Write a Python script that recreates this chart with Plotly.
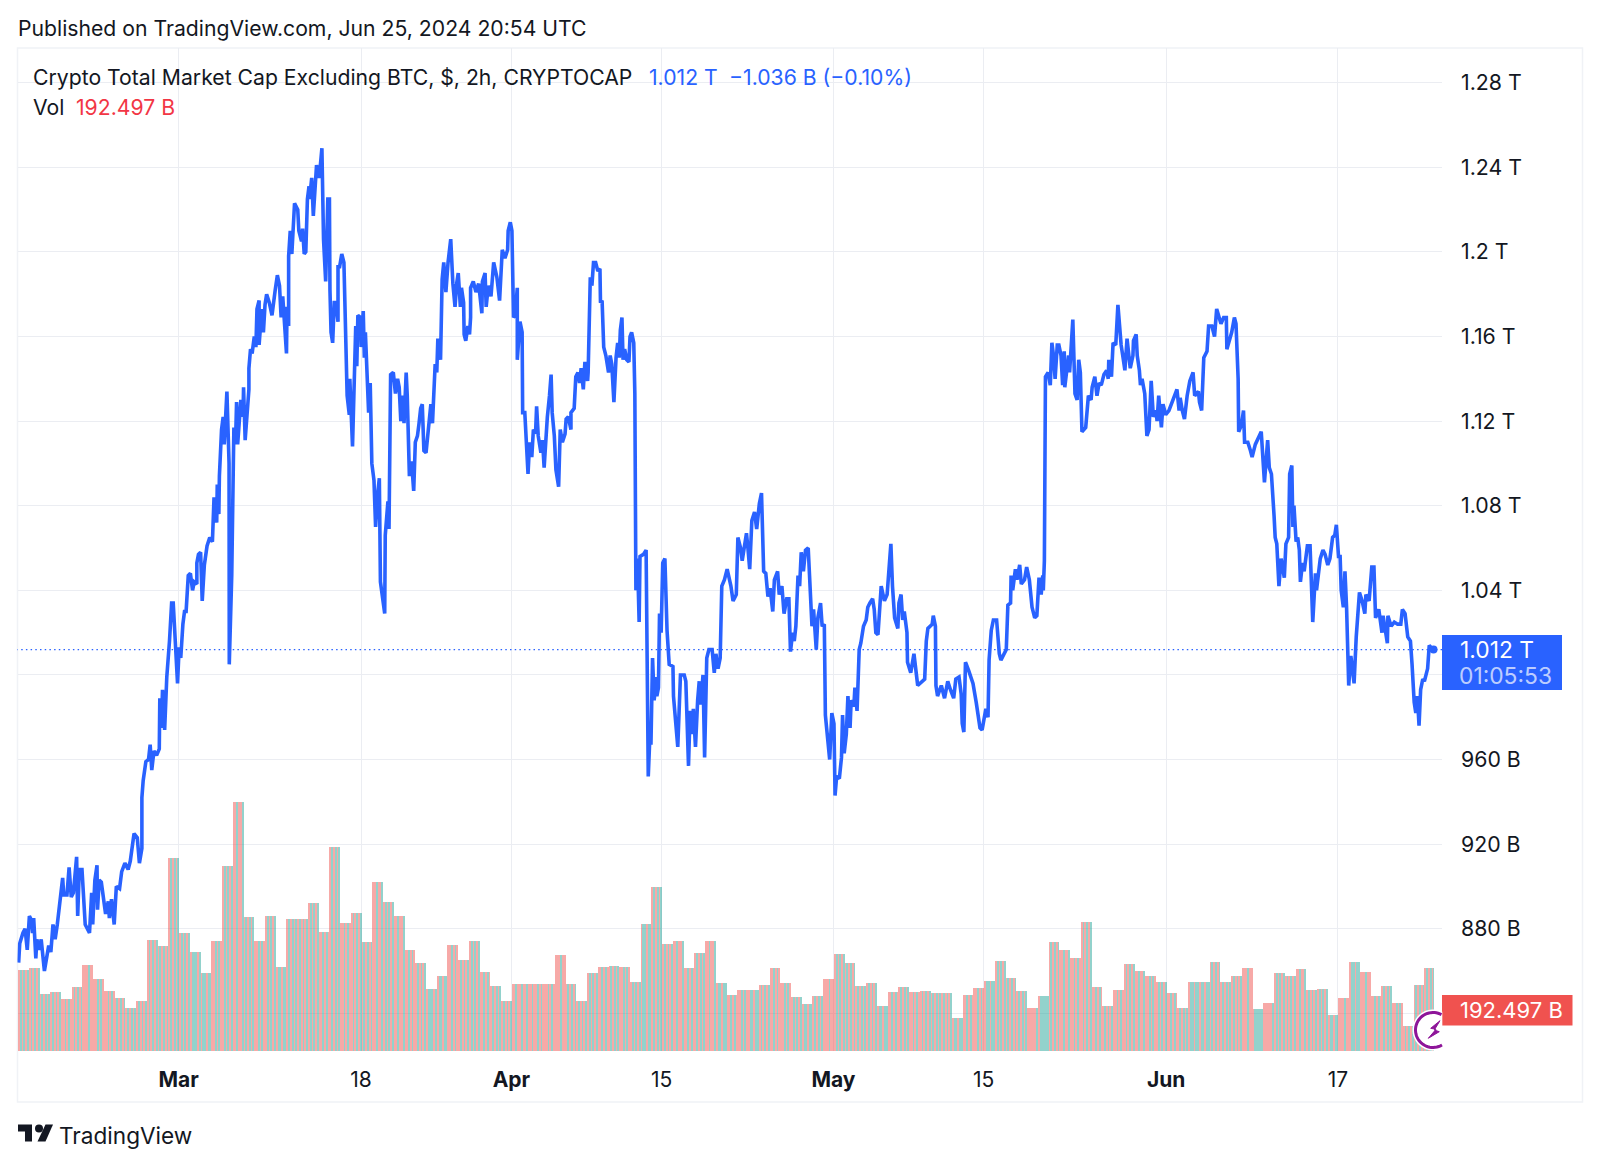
import numpy as np
import pandas as pd
import plotly.graph_objects as go

# price readings as (days after Mar 1, market cap in billions)
price_feb = [(-14.9,864),(-14.8,873),(-14.5,878),(-14.3,880),(-14.1,870),(-13.9,886),(-13.7,884),(-13.6,878),(-13.5,885),
    (-13.3,866),(-13.2,875),(-13.0,870),(-12.8,875),(-12.5,860),(-12.1,872),(-11.9,869),(-11.7,882),(-11.5,875),(-11.3,882),
    (-11.1,891),(-11.0,895),(-10.8,904),(-10.7,896),(-10.4,896),(-10.2,909),(-10.0,895),(-9.8,897),(-9.5,914),(-9.4,886),
    (-9.25,908),(-9.0,908),(-8.9,900),(-8.7,882),(-8.5,880),(-8.3,878),(-8.1,897),(-8.0,882),(-7.8,903),(-7.6,910),(-7.55,889),
    (-7.4,903),(-7.2,902),(-7.0,893),(-6.8,887),(-6.55,893),(-6.45,885),(-6.25,894),(-6.0,882),(-5.8,900),(-5.5,899),(-5.3,907),
    (-5.0,911),(-4.7,908),(-4.5,912),(-4.15,925),(-3.85,923),(-3.65,911),(-3.42,918),(-3.42,942),(-3.3,950),(-3.05,959),(-2.8,960),
    (-2.65,967),(-2.5,955),(-2.3,964),(-2.05,962),(-1.8,965),(-1.75,989),(-1.6,975),(-1.5,993),(-1.3,974),(-1.1,999),(-0.85,1016),
    (-0.65,1034),(-0.5,1034),(-0.1,996)]
price_mar = [(0.05,1013),(0.2,1008),(0.4,1024),(0.55,1030),(0.7,1030),(0.9,1047),(1.1,1048),(1.3,1040),(1.45,1044),(1.7,1043),(1.7,1053),
    (1.85,1057),(2.05,1058),(2.2,1035),(2.4,1052),(2.65,1061),(2.9,1065),(3.15,1063),(3.3,1084),(3.55,1072),(3.6,1090),(3.75,1076),
    (3.8,1094),(4.0,1116),(4.15,1122),(4.25,1109),(4.5,1134),(4.7,1100),(4.72,1005),(4.95,1047),(5.1,1100),(5.15,1117),(5.3,1109),
    (5.4,1129),(5.5,1109),(5.8,1130),(6.0,1122),(6.05,1136),(6.2,1111),(6.4,1129),(6.55,1135),(6.55,1145),(6.7,1154),(6.85,1152),
    (7.05,1160),(7.2,1155),(7.3,1173),(7.5,1177),(7.5,1156),(7.75,1173),(7.9,1162),(8.05,1175),(8.2,1180),(8.45,1176),(8.7,1170),
    (9.0,1182),(9.2,1189),(9.4,1184),(9.55,1169),(9.7,1179),(9.85,1169),(10.05,1152),(10.1,1174),(10.25,1165),(10.25,1198),(10.4,1210),
    (10.55,1199),(10.7,1210),(10.8,1223),(11.1,1220),(11.2,1210),(11.45,1205),(11.55,1211),(11.7,1199),(11.85,1200),(12.0,1225),
    (12.15,1231),(12.2,1225),(12.4,1235),(12.55,1217),(12.75,1234),(12.85,1241),(13.1,1235),(13.35,1249),(13.5,1206),(13.7,1186),
    (13.9,1225),(14.05,1225),(14.1,1182),(14.2,1162),(14.35,1157),(14.5,1176),(14.65,1176),(14.85,1167),(14.85,1193),(15.0,1193),
    (15.2,1199),(15.4,1195),(15.5,1174),(15.6,1159),(15.7,1132),(15.9,1123),(15.95,1140),(16.2,1108),(16.35,1144),(16.5,1165),(16.6,1146),
    (16.7,1170),(16.95,1169),(17.0,1155),(17.2,1172),(17.3,1150),(17.4,1162),(17.6,1138),(17.7,1124),(17.85,1138),(18.0,1100),(18.2,1092),
    (18.35,1070),(18.55,1086),(18.7,1093),(18.8,1044),(19.2,1029),(19.25,1066),(19.4,1080),(19.5,1082),(19.6,1069),(19.75,1142),(20.0,1143),
    (20.2,1133),(20.4,1140),(20.55,1136),(20.7,1120),(20.85,1132),(21.0,1119),(21.2,1143),(21.3,1132),(21.5,1094),(21.7,1101),(21.9,1087),
    (22.05,1110),(22.25,1113),(22.4,1119),(22.55,1126),(22.7,1128),(22.85,1106),(23.05,1105),(23.25,1117),(23.35,1124),(23.5,1128),
    (23.65,1119),(23.9,1147),(24.05,1143),(24.15,1159),(24.4,1149),(24.55,1187),(24.7,1195),(24.9,1181),(25.1,1195),(25.35,1206),(25.55,1185),
    (25.75,1174),(25.9,1185),(26.05,1190),(26.25,1174),(26.35,1183),(26.55,1176),(26.6,1161),(26.75,1158),(26.95,1165),(27.1,1161),(27.2,1169),
    (27.2,1183),(27.45,1186),(27.7,1181),(27.95,1185),(28.25,1171),(28.3,1186),(28.55,1190),(28.65,1174),(28.85,1184),(29.1,1179),(29.35,1195),
    (29.65,1188),(29.9,1177),(30.15,1201),(30.4,1197),(30.65,1201),(30.7,1210),(30.9,1214)]
price_apr = [(31.05,1210),(31.2,1169),(31.35,1170),(31.55,1183),(31.55,1149),(31.8,1167),(32.0,1162),(32.05,1124),(32.25,1124),(32.4,1108),
    (32.55,1095),(32.7,1110),(32.9,1103),(33.05,1116),(33.25,1114),(33.35,1127),(33.5,1113),(33.75,1105),(33.9,1111),(34.05,1098),(34.2,1114),
    (34.35,1122),(34.55,1132),(34.7,1142),(34.8,1124),(35.0,1113),(35.15,1097),(35.4,1089),(35.55,1116),(35.75,1110),(36.0,1114),(36.1,1121),
    (36.3,1122),(36.55,1116),(36.55,1124),(36.85,1126),(37.0,1141),(37.2,1143),(37.35,1138),(37.5,1145),(37.7,1135),(37.85,1148),(38.1,1139),
    (38.15,1143),(38.35,1188),(38.5,1184),(38.65,1195),(38.85,1195),(39.05,1191),(39.25,1192),(39.3,1176),(39.45,1177),(39.6,1155),(39.8,1151),
    (40.05,1143),(40.2,1151),(40.35,1147),(40.55,1129),(40.75,1150),(40.9,1157),(41.05,1150),(41.15,1163),(41.3,1169),(41.4,1149),(41.55,1154),
    (41.75,1149),(41.95,1148),(42.05,1160),(42.2,1162),(42.4,1157),(42.5,1133),(42.6,1040),(42.75,1055),(42.9,1025),(42.98,1056),(43.3,1057),
    (43.55,1059),(43.6,1018),(43.7,980),(43.75,952),(43.95,977),(44.0,967),(44.15,1008),(44.3,988),(44.5,999),(44.55,990),(44.7,994),(44.8,1029),
    (44.95,1020),(45.1,1053),(45.3,1055),(45.4,1038),(45.5,1021),(45.7,1005),(46.05,1004),(46.1,990),(46.2,985),(46.5,966),(46.75,1000),(47.1,1000),
    (47.25,997),(47.35,982),(47.5,957),(47.65,983),(47.85,972),(47.95,984),(48.15,966),(48.35,988),(48.5,997),(48.65,986),(48.85,1000),(49.0,961),
    (49.15,1001),(49.2,1008),(49.4,1012),(49.7,1012),(49.9,1001),(50.05,1010),(50.25,1003),(50.45,1008),(50.6,1042),(50.85,1045),(51.1,1050),
    (51.3,1046),(51.45,1042),(51.65,1035),(51.95,1038),(52.1,1065),(52.35,1060),(52.5,1054),(52.7,1060),(52.9,1067),(53.05,1059),(53.2,1050),
    (53.4,1073),(53.65,1077),(53.85,1069),(54.1,1081),(54.3,1086),(54.5,1049),(54.7,1048),(54.9,1037),(55.1,1041),(55.35,1030),(55.5,1045),
    (55.8,1049),(55.95,1038),(56.2,1042),(56.4,1029),(56.65,1036),(56.85,1036),(57.0,1011),(57.2,1020),(57.35,1016),(57.5,1023),(57.7,1047),
    (57.85,1042),(58.0,1058),(58.2,1049),(58.4,1059),(58.65,1060),(58.8,1042),(59.0,1023),(59.15,1031),(59.4,1012),(59.55,1027),(59.8,1034),
    (59.95,1023),(60.15,1024),(60.25,981),(60.45,972),(60.65,960),(60.85,982)]
price_may = [(61.05,977),(61.15,943),(61.3,952),(61.55,951),(61.75,961),(61.85,981),(62.0,963),(62.2,972),(62.35,990),(62.55,975),(62.65,988),
    (62.9,985),(63.0,994),(63.2,983),(63.4,1012),(63.55,1015),(63.8,1023),(64.05,1026),(64.2,1032),(64.4,1034),(64.65,1036),(64.8,1031),(64.95,1020),
    (65.15,1019),(65.45,1042),(65.75,1035),(66.0,1038),(66.35,1062),(66.5,1042),(66.7,1027),(67.0,1022),(67.1,1034),(67.3,1038),(67.45,1026),
    (67.6,1030),(67.85,1020),(67.9,1006),(68.2,1001),(68.5,1010),(68.85,995),(69.5,998),(69.65,1016),(69.8,1022),(70.2,1024),(70.3,1028),(70.5,1023),
    (70.55,995),(70.7,990),(71.05,995),(71.35,989),(71.65,997),(71.9,993),(72.2,989),(72.4,998),(72.7,999),(72.9,991),(73.0,977),(73.15,973),
    (73.3,1006),(73.6,1002),(74.0,996),(74.3,987),(74.65,975),(74.85,974),(75.1,980),(75.2,984),(75.4,980),(75.5,1007),(75.7,1021),(75.9,1026),
    (76.2,1026),(76.45,1010),(76.6,1007),(77.1,1012),(77.25,1033),(77.5,1034),(77.55,1047),(77.7,1040),(77.95,1050),(78.1,1045),(78.35,1052),
    (78.5,1043),(78.8,1045),(79.0,1051),(79.25,1045),(79.5,1032),(79.75,1027),(79.95,1028),(80.15,1046),(80.35,1038),(80.5,1047),(80.55,1040),
    (80.65,1054),(80.7,1103),(80.75,1141),(81.0,1143),(81.2,1137),(81.35,1157),(81.5,1151),(81.65,1140),(81.85,1156),(82.0,1156),(82.2,1151),
    (82.35,1137),(82.5,1153),(82.55,1136),(82.75,1143),(82.9,1151),(83.0,1143),(83.15,1155),(83.3,1168),(83.5,1133),(83.7,1130),(83.85,1149),
    (84.0,1143),(84.15,1115),(84.5,1117),(84.75,1132),(85.0,1130),(85.1,1136),(85.35,1141),(85.55,1132),(85.75,1138),(85.95,1137),(86.2,1142),
    (86.45,1144),(86.6,1140),(86.65,1149),(86.9,1141),(87.05,1157),(87.3,1156),(87.5,1175),(87.65,1163),(87.8,1156),(87.95,1151),(88.15,1144),
    (88.35,1159),(88.45,1154),(88.65,1145),(88.9,1151),(88.95,1158),(89.2,1161),(89.3,1151),(89.5,1144),(89.6,1137),(89.75,1140),(90.0,1133),
    (90.2,1113),(90.4,1116),(90.6,1139),(90.8,1122),(91.05,1125),(91.15,1120),(91.3,1132),(91.55,1117),(91.7,1128),(91.95,1123)]
price_jun = [(92.25,1125),(92.6,1130),(93.0,1135),(93.2,1125),(93.3,1131),(93.5,1125),(93.7,1121),(93.95,1132),(94.2,1139),(94.5,1143),(94.65,1132),
    (95.0,1134),(95.1,1129),(95.3,1125),(95.5,1150),(95.8,1153),(95.95,1165),(96.25,1165),(96.5,1160),(96.7,1173),(96.9,1170),(97.1,1166),(97.35,1169),
    (97.6,1169),(97.65,1154),(97.9,1158),(98.1,1162),(98.35,1169),(98.5,1166),(98.7,1140),(98.75,1115),(99.0,1118),(99.2,1125),(99.3,1110),(99.6,1110),
    (99.85,1106),(100.0,1103),(100.3,1109),(100.7,1114),(100.85,1115),(101.15,1091),(101.45,1111),(101.6,1098),(101.8,1095),(102.05,1075),(102.15,1065),
    (102.3,1062),(102.5,1042),(102.7,1055),(103.0,1046),(103.15,1062),(103.4,1065),(103.5,1095),(103.7,1099),(103.8,1070),(103.9,1080),(104.1,1063),
    (104.25,1065),(104.4,1059),(104.5,1044),(104.7,1053),(104.85,1049),(105.15,1061),(105.4,1061),(105.65,1025),(105.9,1048),(106.0,1040),(106.2,1050),
    (106.35,1055),(106.6,1059),(106.8,1057),(107.05,1052),(107.25,1055),(107.5,1065),(107.7,1066),(107.85,1071),(108.05,1056),(108.2,1056),(108.3,1040),
    (108.5,1032),(108.65,1049),(108.8,1032),(109.0,995),(109.2,1009),(109.5,996),(109.7,1018),(110.0,1039),(110.25,1035),(110.5,1029),(110.6,1038),
    (110.9,1035),(111.15,1051),(111.35,1051),(111.5,1027),(111.8,1031),(112.1,1020),(112.2,1028),(112.6,1015),(112.65,1028),(112.95,1023),(113.25,1025),
    (113.55,1024),(113.85,1024),(114.0,1031),(114.25,1029),(114.5,1018),(114.75,1016),(114.9,1005),(115.1,987),(115.25,982),(115.4,990),(115.55,976),
    (115.7,993),(115.9,998),(116.05,997),(116.35,1003),(116.5,1014),(116.65,1013),(116.9,1012)]

# daily volume in billions, one value per day
vol_feb = [383,391,270,278,246,301,407,339,285,251,203,235,525,497,912]
vol_mar = [557,467,371,519,874,1178,632,522,640,399,623,623,699,563,967,607,651,514,801,703,637,479,416,293,353,500,429,522,372,308,238]
vol_apr = [315,315,315,315,454,315,238,371,396,404,396,328,599,777,506,522,391,464,519,320,265,290,290,312,391,320,255,222,260,341]
vol_may = [459,416,308,323,213,278,303,278,282,273,273,155,265,298,331,426,345,282,205,260,514,476,438,609,303,213,290,410,378,353,325]
vol_jun = [273,202,325,325,421,325,353,393,197,227,367,353,388,290,295,170,252,421,375,260,308,227,120,312,391]
# how many of the twelve 2h bars are up that day
up_bars = [7,6,6,7,5,6,3,5,5,7,6,6,6,6,6,
    7,9,8,5,7,4,7,5,6,8,6,6,7,5,6,5,7,6,4,6,4,5,6,9,8,5,6,6,5,7,7,
    4,4,5,5,3,6,7,6,5,6,5,6,8,6,6,4,5,6,4,8,5,5,8,6,5,5,7,8,6,3,
    6,6,7,6,8,5,6,5,6,6,6,8,5,5,8,6,7,6,2,11,7,4,5,6,5,7,5,6,4,5,6,
    5,7,8,8,6,6,7,3,11,2,6,7,4,6,7,8,3,8,3,5,6,5,7,7,6]

price_ticks = [840,880,920,960,1000,1040,1080,1120,1160,1200,1240,1280]
price_labels = ["","880 B","920 B","960 B","","1.04 T","1.08 T","1.12 T","1.16 T","1.2 T","1.24 T","1.28 T"]
time_ticks = ["2024-03-01","2024-03-18","2024-04-01","2024-04-15","2024-05-01","2024-05-15","2024-06-01","2024-06-17"]
time_labels = ["<b>Mar</b>","18","<b>Apr</b>","15","<b>May</b>","15","<b>Jun</b>","17"]

last_price = 1012

W, H = 1600, 1165
FONT = "Inter"
INK = "#131722"
BLUE = "#2962FF"
RED = "#F23645"
GRID = "#ebedf2"
UP = "rgba(38,166,154,0.5)"
DOWN = "rgba(239,83,80,0.5)"

# pane edges in page pixels
PANE_L, PANE_R, PANE_T, PANE_B = 17.5, 1442, 48, 1051


def px(x):
    return x / W


def py(y):
    return 1 - y / H


def to_date(days):
    return pd.Timestamp("2024-03-01") + pd.to_timedelta(days, unit="D")


def label(fig, x, y, text, color=INK, size=21.2, anchor="left"):
    fig.add_annotation(xref="paper", yref="paper", x=px(x), y=py(y), text=text, showarrow=False,
                       xanchor=anchor, yanchor="middle", align="left",
                       font=dict(family=FONT, size=size, color=color))


points = price_feb + price_mar + price_apr + price_may + price_jun
price_x = [to_date(p[0]) for p in points]
price_y = [p[1] for p in points]

# every day is cut into 2h bars of the same height, TradingView style
vol_daily = vol_feb + vol_mar + vol_apr + vol_may + vol_jun
bar_x, bar_y, bar_color = [], [], []
for day, (vol, ups) in enumerate(zip(vol_daily, up_bars)):
    count = 11 if day == len(vol_daily) - 1 else 12
    for i in range(count):
        bar_x.append(pd.Timestamp("2024-02-15") + pd.Timedelta(days=day, hours=2 * i + 1))
        bar_y.append(vol)
        # two bars at a time, so the stripes stay about 2px wide
        g = i // 2
        bar_color.append(UP if (g + 1) * ups // 12 > g * ups // 12 else DOWN)

fig = go.Figure()

fig.add_trace(go.Bar(x=bar_x, y=bar_y, width=7200000, marker=dict(color=bar_color, line=dict(width=0)),
                     yaxis="y", showlegend=False, hoverinfo="skip"))
fig.add_trace(go.Scatter(x=[to_date(-15.1), to_date(117.8)], y=[last_price, last_price], mode="lines", yaxis="y2",
                         line=dict(color=BLUE, width=1.2, dash="1.5px,3.2px"), showlegend=False, hoverinfo="skip"))
fig.add_trace(go.Scatter(x=price_x, y=price_y, mode="lines", yaxis="y2", line=dict(color=BLUE, width=3.6),
                         showlegend=False, name="Crypto Total Market Cap Excluding BTC"))
fig.add_trace(go.Scatter(x=[price_x[-1]], y=[price_y[-1]], mode="markers", yaxis="y2",
                         marker=dict(color=BLUE, size=8), showlegend=False, hoverinfo="skip"))

shapes = [
    # outer frame
    dict(type="rect", xref="paper", yref="paper", x0=px(17.5), x1=px(1582.5), y0=py(48), y1=py(1102),
         line=dict(color="#f0f2f6", width=1.5), layer="below"),
    # last price and volume badges
    dict(type="rect", xref="paper", yref="paper", x0=px(1442), x1=px(1562), y0=py(635), y1=py(690),
         fillcolor=BLUE, line=dict(width=0)),
    dict(type="rect", xref="paper", yref="paper", x0=px(1442), x1=px(1572.5), y0=py(995), y1=py(1025.5),
         fillcolor="#F0524F", line=dict(width=0)),
]

# purple lightning badge, cut off at the pane edge
cx, cy, r = 1433, 1030, 17.5
angles = np.radians(np.arange(59, 302, 6))
halo = "M" + " L".join(f"{px(cx + (r + 3) * np.cos(a)):.5f},{py(cy + (r + 3) * np.sin(a)):.5f}" for a in np.radians(np.arange(63, 298, 6))) + " Z"
ring = "M" + " L".join(f"{px(cx + r * np.cos(a)):.5f},{py(cy + r * np.sin(a)):.5f}" for a in angles)
bolt = [(1440, 1020.7), (1430.7, 1028.3), (1436, 1029.3), (1428.3, 1038.3), (1439.3, 1031.7), (1434.3, 1030)]
bolt_path = "M" + " L".join(f"{px(x):.5f},{py(y):.5f}" for x, y in bolt) + " Z"
shapes.append(dict(type="path", xref="paper", yref="paper", path=halo, fillcolor="white", line=dict(width=0)))
shapes.append(dict(type="path", xref="paper", yref="paper", path=ring, line=dict(color="#8E1599", width=3)))
shapes.append(dict(type="path", xref="paper", yref="paper", path=bolt_path, fillcolor="#8E1599", line=dict(color="#8E1599", width=1)))

# TradingView logo
logo_t = [(18, 1124.5), (32, 1124.5), (32, 1141.5), (25, 1141.5), (25, 1131.5), (18, 1131.5)]
logo_slash = [(45.5, 1124.5), (53, 1124.5), (45.5, 1141.5), (37.5, 1141.5)]
for part in (logo_t, logo_slash):
    shapes.append(dict(type="path", xref="paper", yref="paper", fillcolor=INK, line=dict(width=0),
                       path="M" + " L".join(f"{px(x):.5f},{py(y):.5f}" for x, y in part) + " Z"))
shapes.append(dict(type="circle", xref="paper", yref="paper", x0=px(35), x1=px(43), y0=py(1132.5), y1=py(1124.5),
                   fillcolor=INK, line=dict(width=0)))

fig.update_layout(
    width=W, height=H, margin=dict(l=0, r=0, t=0, b=0),
    paper_bgcolor="white", plot_bgcolor="white", bargap=0, barmode="overlay",
    font=dict(family=FONT, color=INK), shapes=shapes,
    xaxis=dict(type="date", domain=[px(PANE_L), px(PANE_R)], range=[to_date(-15.007), to_date(117.69)],
               tickvals=time_ticks, ticktext=time_labels, showgrid=True, gridcolor=GRID, gridwidth=1,
               zeroline=False, showline=False, ticks="", ticklabelstandoff=14, tickfont=dict(family=FONT, size=21, color=INK)),
    yaxis=dict(domain=[py(PANE_B), py(PANE_T)], range=[0, 4745], visible=False, fixedrange=True),
    yaxis2=dict(overlaying="y", side="right", anchor="x", range=[822.2, 1296.4], tickvals=price_ticks, ticktext=price_labels,
                showgrid=True, gridcolor=GRID, gridwidth=1, zeroline=False, showline=False, ticks="",
                ticklabelstandoff=18, tickfont=dict(family=FONT, size=21.3, color=INK)),
)

label(fig, 16.4, 28.5, "Published on TradingView.com, Jun 25, 2024 20:54 UTC")
label(fig, 30.6, 76.5, "Crypto Total Market Cap Excluding BTC, $, 2h, CRYPTOCAP")
label(fig, 647, 76.5, "1.012 T", BLUE)
label(fig, 726.5, 76.5, "\u22121.036 B (\u22120.10%)", BLUE)
label(fig, 30.6, 107, "Vol")
label(fig, 73.5, 107, "192.497 B", RED)
label(fig, 1457.5, 649, "1.012 T", "white", 22.8)
label(fig, 1456.5, 675, "01:05:53", "rgba(255,255,255,0.7)", 22.8)
label(fig, 1457.5, 1010, "192.497 B", "white", 22)
label(fig, 57, 1135, "TradingView", INK, 22.6)

fig.write_html("out.html", config={"displayModeBar": False},
               post_script="document.body.style.margin='0';document.body.style.overflow='hidden';")
